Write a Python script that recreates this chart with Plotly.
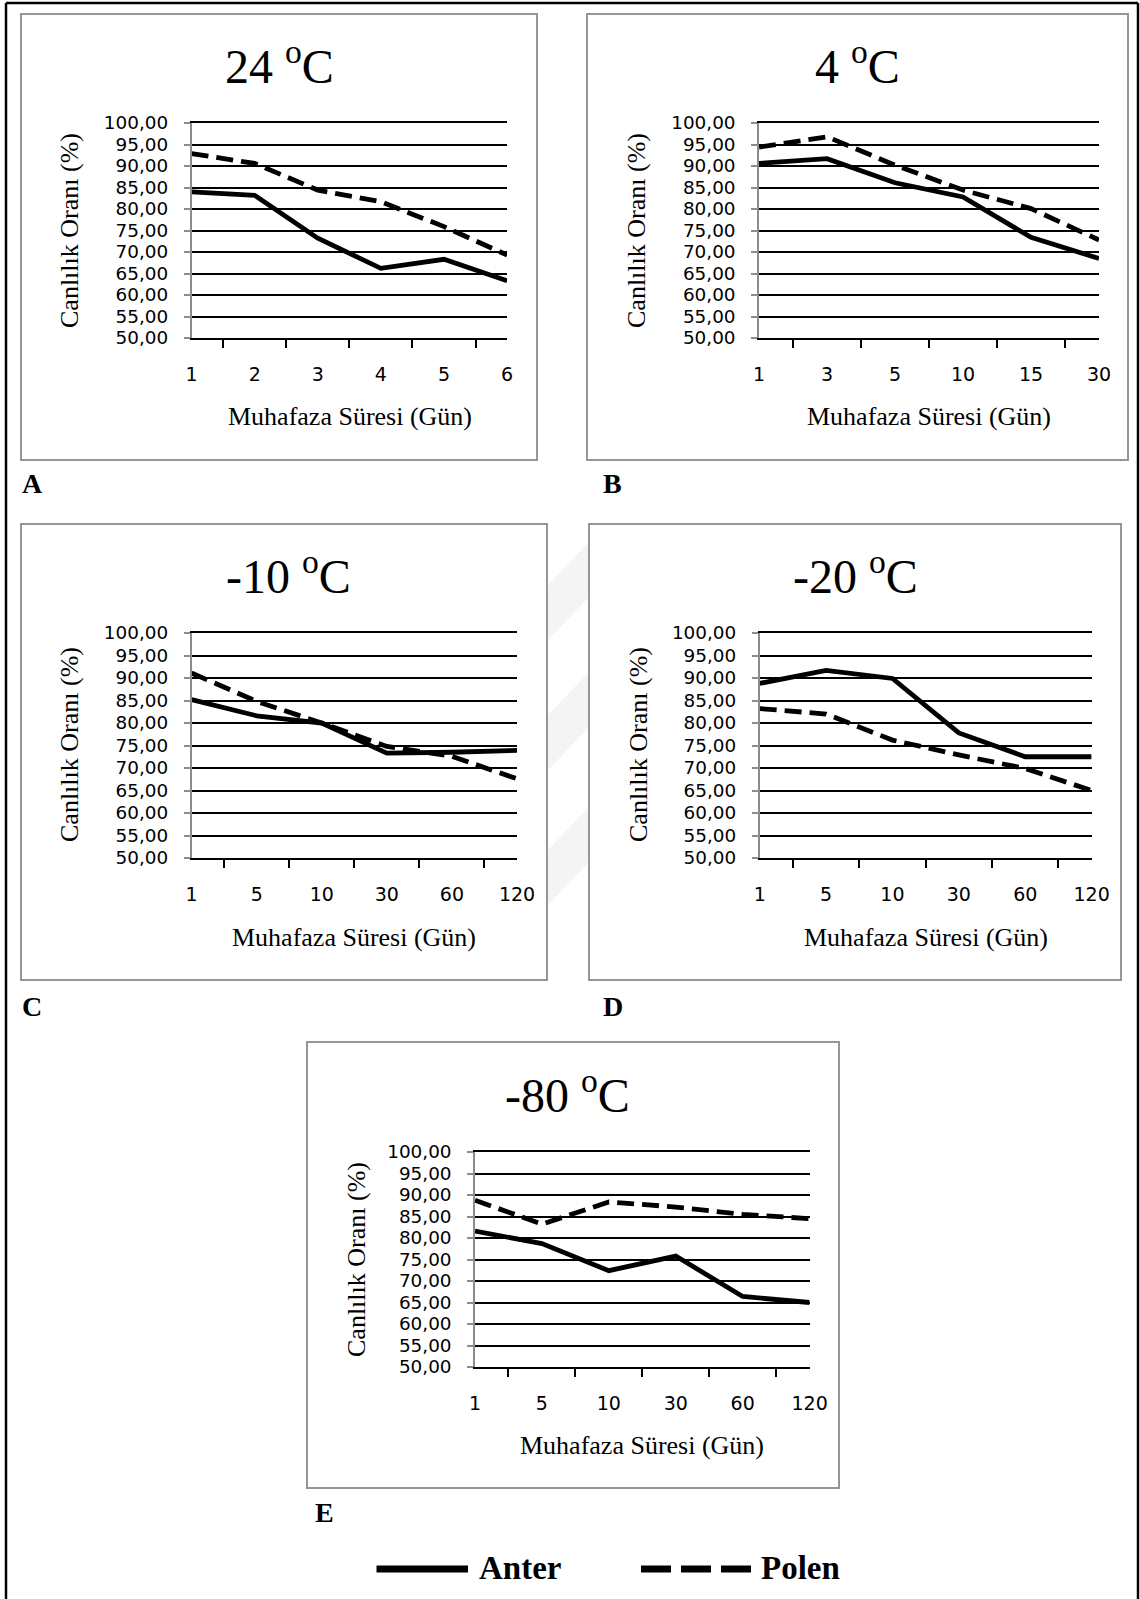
import plotly.graph_objects as go

W, H = 1140, 1599

# ---------------- data ----------------
days_a = ["1", "2", "3", "4", "5", "6"]
days_b = ["1", "3", "5", "10", "15", "30"]
days_cde = ["1", "5", "10", "30", "60", "120"]

anter_a = [84.0, 83.2, 73.2, 66.2, 68.3, 63.3]
polen_a = [92.9, 90.6, 84.4, 81.7, 75.9, 69.3]

anter_b = [90.6, 91.7, 86.1, 82.8, 73.4, 68.5]
polen_b = [94.4, 96.8, 90.2, 84.4, 80.1, 72.8]

anter_c = [85.2, 81.6, 80.0, 73.3, 73.5, 73.9]
polen_c = [91.1, 84.8, 80.0, 74.8, 72.6, 67.6]

anter_d = [88.8, 91.7, 89.9, 77.8, 72.5, 72.5]
polen_d = [83.2, 82.0, 76.2, 72.9, 69.9, 65.0]

anter_e = [81.6, 78.7, 72.4, 75.8, 66.4, 65.0]
polen_e = [88.8, 83.2, 88.4, 87.2, 85.5, 84.5]

titles = ["24 <sup>o</sup>C", "4 <sup>o</sup>C", "-10 <sup>o</sup>C", "-20 <sup>o</sup>C", "-80 <sup>o</sup>C"]
letters = ["A", "B", "C", "D", "E"]
x_title = "Muhafaza Süresi (Gün)"
y_title = "Canlılık Oranı (%)"
series_names = ["Anter", "Polen"]

# ---------------- layout geometry (pixels) ----------------
plots = [
    (191.6, 507.1, 123, 338),
    (759.0, 1099.0, 123, 338),
    (191.6, 517.0, 633, 858),
    (759.7, 1091.6, 633, 858),
    (475.0, 809.6, 1152, 1367),
]
boxes = [
    (21, 537, 14, 460),
    (587, 1128, 14, 460),
    (21, 547, 524, 980),
    (589, 1121, 524, 980),
    (307, 839, 1042, 1488),
]
title_pos = [(279, 63), (857.5, 63), (288, 573), (855, 573), (567, 1092)]
ytitle_pos = [(70, 231), (637, 231), (70, 745), (639, 745), (356, 1260)]
xtitle_pos = [(349.5, 416), (929, 416), (354, 938), (925.6, 938), (642, 1445)]
letter_pos = [(20, 483), (601, 483), (20, 1006), (601, 1006), (313, 1512)]

def px(x):
    return x / W

def py(y):
    return 1 - y / H

data_sets = [
    (days_a, anter_a, polen_a),
    (days_b, anter_b, polen_b),
    (days_cde, anter_c, polen_c),
    (days_cde, anter_d, polen_d),
    (days_cde, anter_e, polen_e),
]

fig = go.Figure()
layout = dict(
    width=W, height=H,
    margin=dict(l=0, r=0, t=0, b=0, pad=0, autoexpand=False),
    paper_bgcolor="white", plot_bgcolor="rgba(0,0,0,0)",
    showlegend=False,
    separators=", ",
)

ytick_font = dict(family="DejaVu Sans", size=18.4, color="black")
xtick_font = dict(family="DejaVu Sans", size=19, color="black")
serif = "Liberation Serif"

annotations = []
shapes = []

# faint watermark stripes in the gap between panels C and D
for (ya, yb) in [(640, 585), (770, 715), (905, 850)]:
    shapes.append(dict(
        type="path", xref="paper", yref="paper", layer="below",
        path=f"M {px(548)} {py(ya)} L {px(548)} {py(yb)} L {px(588)} {py(yb-42)} L {px(588)} {py(ya-42)} Z",
        fillcolor="#f4f4f4", line=dict(width=0),
    ))

for i, ((cats, an, po), (x0, x1, y0, y1)) in enumerate(zip(data_sets, plots)):
    n = i + 1
    xa = "x" if n == 1 else f"x{n}"
    ya = "y" if n == 1 else f"y{n}"
    fig.add_trace(go.Scatter(x=cats, y=an, mode="lines", name=series_names[0],
                             line=dict(color="black", width=4.8), xaxis=xa, yaxis=ya))
    fig.add_trace(go.Scatter(x=cats, y=po, mode="lines", name=series_names[1],
                             line=dict(color="black", width=4.8, dash="17px,8px"), xaxis=xa, yaxis=ya))
    xkey = "xaxis" if n == 1 else f"xaxis{n}"
    ykey = "yaxis" if n == 1 else f"yaxis{n}"
    layout[xkey] = dict(
        domain=[px(x0), px(x1)], anchor=ya, type="category",
        categoryorder="array", categoryarray=cats,
        showline=True, linecolor="black", linewidth=1.5, mirror=True,
        ticks="outside", tickson="boundaries", ticklen=8, tickwidth=1.5, tickcolor="black",
        showgrid=False, zeroline=False, tickfont=xtick_font, automargin=False,
        ticklabelstandoff=18, fixedrange=True,
    )
    layout[ykey] = dict(
        domain=[py(y1), py(y0)], anchor=xa, range=[50, 100],
        dtick=5, tick0=50, tickformat=".2f",
        showline=True, linecolor="#8c8c8c", linewidth=1.5,
        ticks="outside", ticklen=6, tickwidth=1.5, tickcolor="#8c8c8c",
        showgrid=True, gridcolor="black", gridwidth=1.6, automargin=False,
        zeroline=False, tickfont=ytick_font, ticklabelstandoff=12, fixedrange=True,
    )
    bx0, bx1, by0, by1 = boxes[i]
    shapes.append(dict(type="rect", xref="paper", yref="paper",
                       x0=px(bx0), x1=px(bx1), y0=py(by1), y1=py(by0),
                       line=dict(color="#969696", width=2), layer="below"))
    tx, ty = title_pos[i]
    annotations.append(dict(text=titles[i], x=px(tx), y=py(ty), xref="paper", yref="paper",
                            xanchor="center", yanchor="middle", showarrow=False,
                            font=dict(family=serif, size=48, color="black")))
    yx, yy = ytitle_pos[i]
    annotations.append(dict(text=y_title, x=px(yx), y=py(yy), xref="paper", yref="paper",
                            xanchor="center", yanchor="middle", showarrow=False, textangle=-90,
                            font=dict(family=serif, size=26, color="black")))
    xx, xy = xtitle_pos[i]
    annotations.append(dict(text=x_title, x=px(xx), y=py(xy), xref="paper", yref="paper",
                            xanchor="center", yanchor="middle", showarrow=False,
                            font=dict(family=serif, size=26, color="black")))
    lx, ly = letter_pos[i]
    annotations.append(dict(text=letters[i], x=px(lx), y=py(ly), xref="paper", yref="paper",
                            xanchor="left", yanchor="middle", showarrow=False,
                            font=dict(family=serif, size=28, color="black", weight="bold")))

# outer black border (left, top, right)
for (ax0, ay0, ax1, ay1) in [(6, 3, 6, H), (6, 3, 1138, 3), (1138, 3, 1138, H)]:
    shapes.append(dict(type="line", xref="paper", yref="paper",
                       x0=px(ax0), y0=py(ay0), x1=px(ax1), y1=py(ay1),
                       line=dict(color="black", width=2.5)))

# legend samples
shapes.append(dict(type="line", xref="paper", yref="paper",
                   x0=px(376.5), x1=px(468), y0=py(1569), y1=py(1569),
                   line=dict(color="black", width=7)))
shapes.append(dict(type="line", xref="paper", yref="paper",
                   x0=px(641), x1=px(752), y0=py(1569), y1=py(1569),
                   line=dict(color="black", width=7, dash="30px,10px")))
annotations.append(dict(text=series_names[0], x=px(477), y=py(1568), xref="paper", yref="paper",
                        xanchor="left", yanchor="middle", showarrow=False,
                        font=dict(family=serif, size=33, color="black", weight="bold")))
annotations.append(dict(text=series_names[1], x=px(759), y=py(1568), xref="paper", yref="paper",
                        xanchor="left", yanchor="middle", showarrow=False,
                        font=dict(family=serif, size=33, color="black", weight="bold")))

layout["annotations"] = annotations
layout["shapes"] = shapes
fig.update_layout(**layout)
fig.write_html(
    "out.html",
    post_script="document.documentElement.style.overflow='hidden';"
                "document.body.style.margin='0';document.body.style.overflow='hidden';",
)
